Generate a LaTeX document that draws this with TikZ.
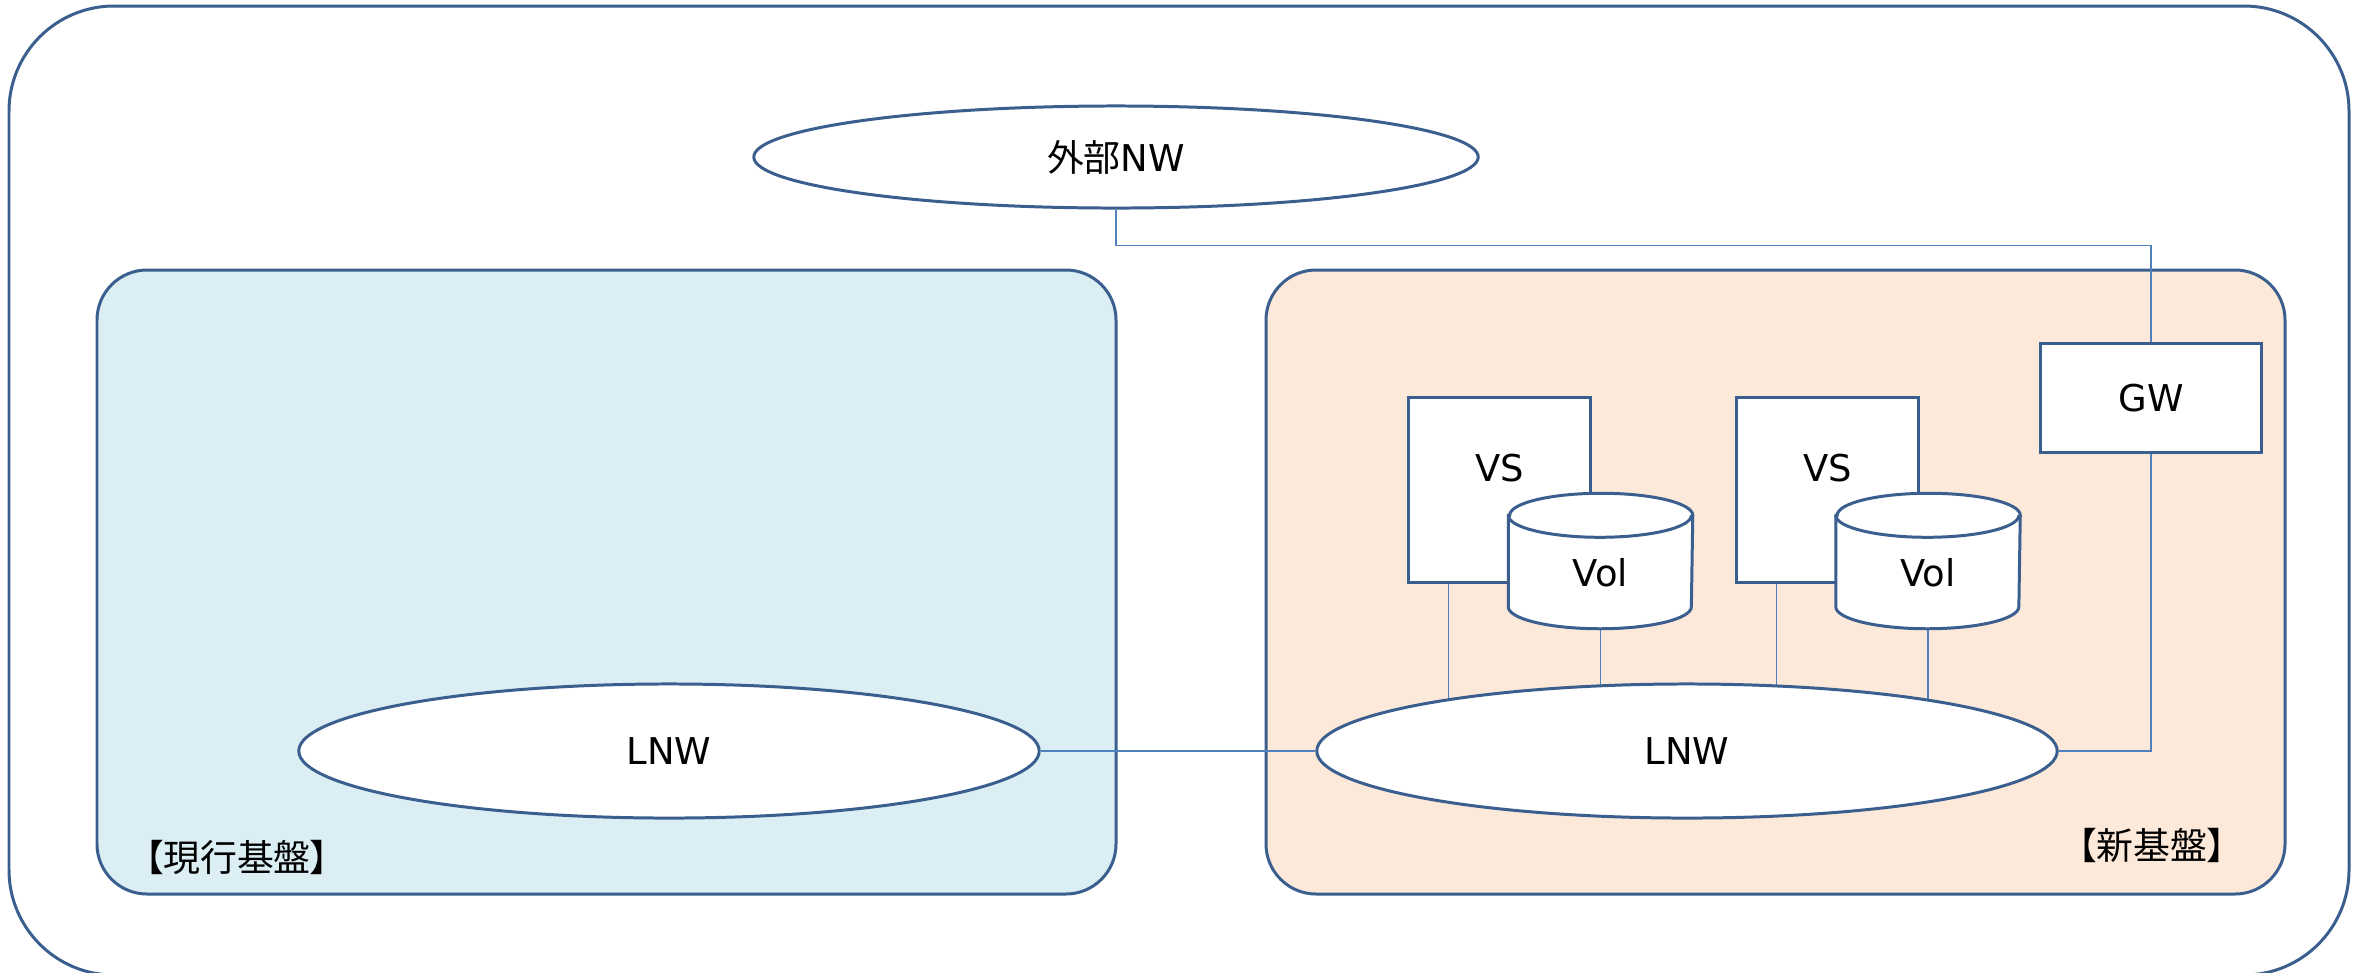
\documentclass[tikz,border=0pt]{standalone}
\usepackage{fontspec}
\setmainfont{DejaVu Sans}
\newfontfamily\jpfont{Noto Sans CJK JP}[RawFeature=+palt]
\usetikzlibrary{shapes.geometric}
\definecolor{edge}{HTML}{3A5F8E}
\definecolor{wire}{HTML}{4F81BD}
\definecolor{oldbg}{HTML}{DBEEF4}
\definecolor{newbg}{HTML}{FDE9D9}
\pgfdeclarelayer{back}
\pgfdeclarelayer{wires}
\pgfsetlayers{back,wires,main}

\begin{document}
\begin{tikzpicture}[x=0.01cm, y=-0.01cm,
    font=\fontsize{10.5}{12.6}\selectfont,
    outline/.style={draw=edge, line width=0.85pt},
    net/.style={outline, ellipse, fill=white, inner sep=0pt, minimum width=7.4cm, minimum height=1.34cm},
    serverbox/.style={outline, fill=white, minimum width=1.81cm, minimum height=1.84cm},
    volbody/.style={minimum width=1.83cm, minimum height=1.34cm, inner sep=0pt},
    wire/.style={draw=wire, line width=0.5pt}]
  \useasboundingbox (0,0) rectangle (2364,972);
  % frames
  \begin{pgfonlayer}{back}
    \draw[outline, fill=white, rounded corners=1.05cm] (9,6) rectangle (2349,975);
    \draw[outline, fill=oldbg, rounded corners=0.5cm] (97,270) rectangle (1116,894);
    \draw[outline, fill=newbg, rounded corners=0.5cm] (1266,270) rectangle (2285,894);
  \end{pgfonlayer}
  % networks
  \node[net, minimum width=7.24cm, minimum height=1.02cm] (extnw) at (1116,157) {{\jpfont 外部}NW};
  \node[net] (lnwA) at (669,751) {LNW};
  \node[net] (lnwB) at (1687,751) {LNW};
  % servers and volumes
  \node[serverbox] (vsA) at (1499.5,490) {};
  \node[serverbox] (vsB) at (1827.5,490) {};
  \node (vsAlbl) at (1499.5,468) {VS};
  \node (vsBlbl) at (1827.5,468) {VS};
  \node[volbody] (volA) at (1600.5,561) {};
  \node[volbody] (volB) at (1928,561) {};
  \foreach \v in {volA,volB} {
    \draw[outline, fill=white] ([yshift=-0.22cm]\v.north west) -- ([yshift=0.22cm]\v.south west)
      arc (180:360:0.915cm and 0.22cm) -- ([yshift=-0.22cm]\v.north east)
      arc (0:180:0.915cm and 0.22cm) -- cycle;
    \draw[outline] ([yshift=-0.22cm]\v.north west) arc (180:360:0.915cm and 0.22cm);
  }
  \node (volAlbl) at (1600.5,573) {Vol};
  \node (volBlbl) at (1928,573) {Vol};
  \node[outline, fill=white, minimum width=2.2cm, minimum height=1.08cm] (gw) at (2151,398) {GW};
  % links
  \begin{pgfonlayer}{wires}
    \draw[wire] (extnw.south) -- ++(0,36) -| (gw.north);
    \draw[wire] (gw.south) |- (lnwB.east);
    \draw[wire, line width=0.8pt] (lnwA.east) -- (lnwB.west);
    \draw[wire] ([xshift=0.41cm]vsA.south west) -- ([xshift=0.41cm]vsA.south west |- lnwB.center);
    \draw[wire] ([xshift=0.41cm]vsB.south west) -- ([xshift=0.41cm]vsB.south west |- lnwB.center);
    \draw[wire] (volA.south) -- (volA.south |- lnwB.center);
    \draw[wire] (volB.south) -- (volB.south |- lnwB.center);
  \end{pgfonlayer}
  % labels
  \node (oldlbl) at (237,857) {\jpfont 【現行基盤】};
  \node (newlbl) at (2152,845) {\jpfont 【新基盤】};
\end{tikzpicture}
\end{document}
